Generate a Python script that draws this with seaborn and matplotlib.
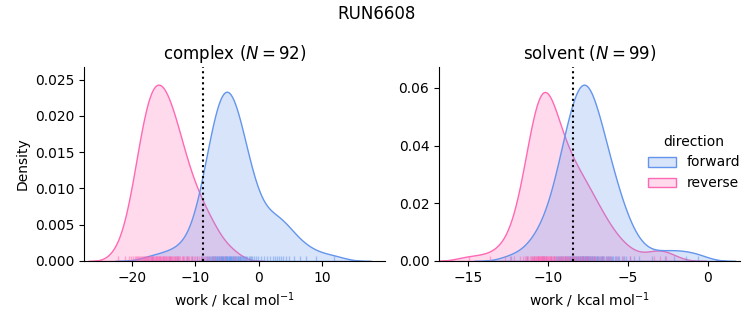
import matplotlib
matplotlib.use("Agg")
import matplotlib.pyplot as plt
import seaborn as sns
import pandas as pd

run_name = "RUN6608"
phases = ["complex", "solvent"]
directions = ["forward", "reverse"]
palette = {"forward": "cornflowerblue", "reverse": "hotpink"}

complex_forward = [
    -16.8, -14.2, -12.9, -11.4, -10.5, -9.7, -9.2,
    -8.9, -8.65, -8.4, -8.2, -8.05,
    -7.9, -7.75, -7.6, -7.45, -7.3, -7.2, -7.05,
    -6.95, -6.85, -6.75, -6.65, -6.55, -6.45, -6.35, -6.25, -6.15, -6.05,
    -5.95, -5.86, -5.77, -5.68, -5.59, -5.5, -5.41, -5.32, -5.23, -5.14, -5.05,
    -4.95, -4.86, -4.77, -4.68, -4.59, -4.5, -4.41, -4.32, -4.23, -4.14, -4.05,
    -3.9, -3.8, -3.7, -3.58, -3.46, -3.35, -3.24, -3.13, -3.03,
    -2.9, -2.75, -2.6, -2.45, -2.3, -2.15, -2.05,
    -1.85, -1.6, -1.4, -1.2, -1.05,
    -0.8, -0.5, -0.2,
    0.35, 0.8,
    1.3, 1.8,
    2.2, 2.5, 2.8,
    3.2, 3.5, 3.8,
    4.3, 4.8,
    5.5,
    6.5, 7.4,
    9.1,
    11.8,
]
complex_reverse = [
    -22.3, -21.1,
    -20.5, -20.2, -19.9,
    -19.6, -19.4, -19.2, -19.05, -18.9, -18.75,
    -18.6, -18.45, -18.3, -18.2, -18.1, -17.95, -17.85, -17.75,
    -17.65, -17.55, -17.45, -17.35, -17.2, -17.1, -17.0, -16.9, -16.8, -16.72,
    -16.65, -16.55, -16.45, -16.3, -16.2, -16.1, -16.0, -15.9, -15.8, -15.72,
    -15.65, -15.55, -15.45, -15.3, -15.2, -15.1, -15.0, -14.9, -14.8, -14.72,
    -14.6, -14.5, -14.35, -14.25, -14.1, -14.0, -13.9, -13.8, -13.72,
    -13.6, -13.45, -13.3, -13.2, -13.05, -12.95, -12.8, -12.72,
    -12.55, -12.4, -12.2, -12.05, -11.9, -11.75,
    -11.55, -11.35, -11.15, -10.95, -10.75,
    -10.5, -10.25, -10.0, -9.8,
    -9.5, -9.15, -8.85,
    -8.55, -8.15, -7.8,
    -7.4, -6.95,
    -6.2,
    -5.3,
    -3.8,
]
solvent_forward = [
    -12.3, -11.3,
    -10.85, -10.6,
    -10.4, -10.25, -10.1,
    -9.78, -9.65, -9.52,
    -9.46, -9.39, -9.32, -9.25, -9.18, -9.1, -9.03,
    -8.96, -8.91, -8.86, -8.8, -8.75, -8.7, -8.65, -8.6, -8.55, -8.51,
    -8.47, -8.43, -8.39, -8.35, -8.31, -8.27, -8.22, -8.18, -8.14, -8.1, -8.06, -8.02,
    -7.98, -7.94, -7.9, -7.86, -7.82, -7.8, -7.78, -7.74, -7.7, -7.66, -7.62, -7.6, -7.58, -7.54, -7.51,
    -7.47, -7.43, -7.39, -7.35, -7.31, -7.26, -7.22, -7.18, -7.14, -7.1, -7.06, -7.02,
    -6.96, -6.91, -6.86, -6.8, -6.75, -6.7, -6.65, -6.6, -6.55, -6.51,
    -6.39, -6.33, -6.27, -6.2, -6.14, -6.08, -6.02,
    -5.92, -5.82, -5.72, -5.62, -5.53,
    -5.4, -5.25, -5.1,
    -4.9, -4.65,
    -4.3,
    -3.5,
    -2.7, -2.1,
    -1.4,
    -0.6,
]
solvent_reverse = [
    -14.9, -13.6, -12.7,
    -12.4, -12.15,
    -11.72, -11.56,
    -11.46, -11.38, -11.3, -11.22, -11.15, -11.08, -11.02,
    -10.97, -10.93, -10.89, -10.85, -10.81, -10.77, -10.73, -10.69, -10.65, -10.61, -10.6, -10.57, -10.54, -10.51,
    -10.47, -10.44, -10.41, -10.38, -10.35, -10.32, -10.3, -10.29, -10.25, -10.22, -10.18, -10.15, -10.12, -10.09, -10.05, -10.02,
    -9.98, -9.94, -9.9, -9.86, -9.82, -9.78, -9.74, -9.7, -9.65, -9.6, -9.56, -9.52,
    -9.38, -9.31, -9.24, -9.18, -9.12, -9.06, -9.01,
    -8.94, -8.87, -8.8, -8.73, -8.66, -8.59, -8.52,
    -8.45, -8.37, -8.29, -8.21, -8.13, -8.05,
    -7.95, -7.87, -7.79, -7.7, -7.62, -7.54,
    -7.45, -7.35, -7.25, -7.15, -7.05,
    -6.85, -6.7, -6.55,
    -6.4, -6.25, -6.1,
    -5.7,
    -5.3,
    -4.9,
    -3.4, -3.0, -2.6,
]

n_cycles = {"complex": 92, "solvent": 99}
estimate = {"complex": -8.8, "solvent": -8.45}
x_limits = {"complex": (-27.6, 19.9), "solvent": (-16.8, 2.0)}

series = {
    ("complex", "forward"): complex_forward,
    ("complex", "reverse"): complex_reverse,
    ("solvent", "forward"): solvent_forward,
    ("solvent", "reverse"): solvent_reverse,
}
rows = []
for (phase, direction), values in series.items():
    for v in values:
        rows.append({"phase": phase, "direction": direction, "work": v})
df = pd.DataFrame(rows)

g = sns.displot(
    data=df, x="work", hue="direction", col="phase", kind="kde",
    fill=True, rug=True, palette=palette, hue_order=directions,
    col_order=phases, facet_kws=dict(sharex=False, sharey=False),
    rug_kws=dict(alpha=0.5),
)
g.set_axis_labels("work / kcal mol$^{-1}$", "Density")
for ax, phase in zip(g.axes.flat, phases):
    ax.set_title(f"{phase} ($N = {n_cycles[phase]}$)", fontsize=12)
    ax.axvline(estimate[phase], color="black", linestyle=":", linewidth=1.5)
    ax.set_xlim(*x_limits[phase])

g.figure.set_size_inches(7.53, 3.25)
g.figure.suptitle(run_name, fontsize=12, y=0.985)
g.figure.subplots_adjust(left=84/753, right=740/753, bottom=1-261/325,
                         top=1-67/325, wspace=54/300)
sns.move_legend(g, "center right", bbox_to_anchor=(1.0, 0.5), frameon=False)
g.figure.savefig("out.png", dpi=100)
